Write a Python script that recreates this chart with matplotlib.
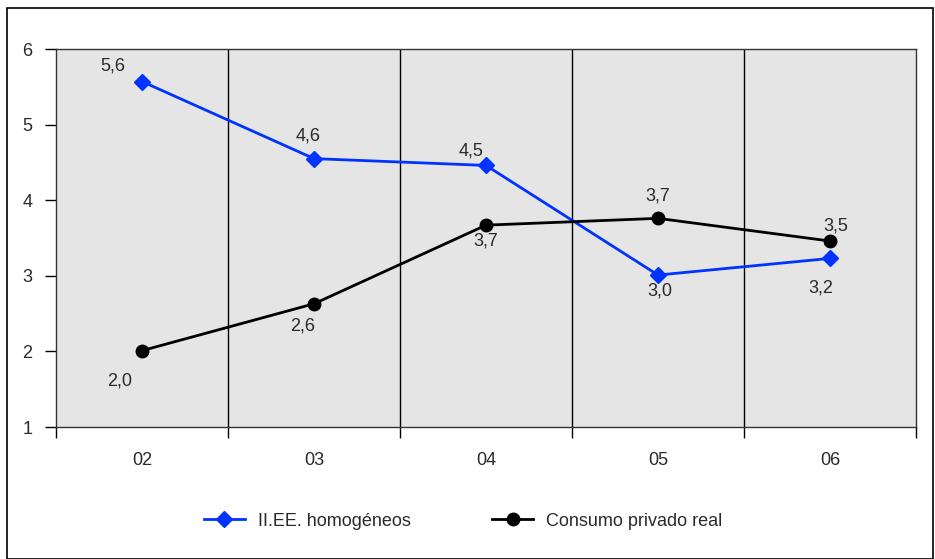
import matplotlib
matplotlib.use("Agg")
import matplotlib.pyplot as plt
from matplotlib.patches import Rectangle

categories = ["02", "03", "04", "05", "06"]
iiee = [5.57, 4.55, 4.46, 3.01, 3.23]
consumo = [2.01, 2.63, 3.67, 3.76, 3.46]
iiee_labels = ["5,6", "4,6", "4,5", "3,0", "3,2"]
consumo_labels = ["2,0", "2,6", "3,7", "3,7", "3,5"]

plt.rcParams['font.family'] = ['Liberation Sans', 'DejaVu Sans']
FS = 13
TC = '#2a2a2a'

fig = plt.figure(figsize=(9.35, 5.59), dpi=100)
W, H = 935, 559
ax = fig.add_axes([56 / W, 1 - 427 / H, (916 - 56) / W, (427 - 49) / H])
ax.set_facecolor('#e5e5e5')

x = list(range(len(categories)))
ax.plot(x, iiee, color='#0033ff', lw=2, marker='D', ms=8, label='II.EE. homogéneos', zorder=3)
ax.plot(x, consumo, color='black', lw=2, marker='o', ms=9, label='Consumo privado real', zorder=3)

for b in [0.5, 1.5, 2.5, 3.5]:
    ax.axvline(b, color='black', lw=1, zorder=1)

iiee_off = [(-29, 16), (-6, 23), (-15, 14), (2, -16), (-9, -30)]
cons_off = [(-22, -30), (-11, -22), (0, -16), (0, 22), (6, 15)]
for i in x:
    ax.annotate(iiee_labels[i], (i, iiee[i]), xytext=iiee_off[i], textcoords='offset pixels',
                ha='center', va='center', fontsize=FS, color=TC)
    ax.annotate(consumo_labels[i], (i, consumo[i]), xytext=cons_off[i], textcoords='offset pixels',
                ha='center', va='center', fontsize=FS, color=TC)

ax.set_xlim(-0.5, 4.5)
ax.set_ylim(1, 6)
ax.set_yticks([1, 2, 3, 4, 5, 6])
ax.set_xticks([-0.5, 0.5, 1.5, 2.5, 3.5, 4.5])
ax.set_xticklabels([])
ax.set_xticks(x, minor=True)
ax.set_xticklabels(categories, minor=True)
ax.tick_params(axis='x', which='major', direction='out', length=8, width=1)
ax.tick_params(axis='x', which='minor', length=0, pad=18, labelsize=FS, labelcolor=TC)
ax.tick_params(axis='y', direction='out', length=8, width=1, labelsize=FS, labelcolor=TC, pad=9)
for s in ax.spines.values():
    s.set_color('#333333')
    s.set_linewidth(1)

leg = fig.legend(loc='center', bbox_to_anchor=(463 / W, 1 - 521 / H), ncol=2, frameon=False,
                 fontsize=FS, handlelength=2.3, columnspacing=4.5, handletextpad=0.7)
for t in leg.get_texts():
    t.set_color(TC)

fig.patches.append(Rectangle((7 / W, 0), (933 - 7) / W, 1 - 8 / H, transform=fig.transFigure,
                             fill=False, edgecolor='black', lw=1.2))

fig.savefig('out.png', dpi=100)
